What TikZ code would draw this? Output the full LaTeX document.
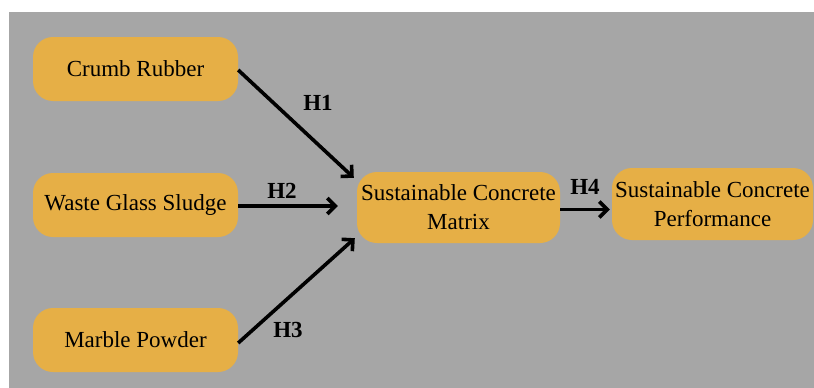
\documentclass[tikz,border=0pt]{standalone}
\usepackage{fontspec}
\setmainfont{Liberation Serif}
\usepackage{tikz}
\usetikzlibrary{arrows.meta}
\definecolor{panelgrey}{HTML}{A6A6A6}
\definecolor{boxorange}{HTML}{E6AF46}

\begin{document}
\begin{tikzpicture}
[
x=1pt,y=-1pt,
factor/.style 2 args={fill=boxorange,rounded corners=20pt,minimum width=#1pt,minimum height=#2pt,
            align=center,inner sep=2pt,font=\fontsize{23}{29}\selectfont},
hyp/.style={font=\fontsize{23}{28}\selectfont\bfseries,inner sep=0pt},
link/.style={line width=3.6pt,-{Straight Barb[length=8pt,width=16pt,line width=3.6pt]}},
]
\useasboundingbox (0,0) rectangle (814,388);
\fill[panelgrey] (8.5,11.5) rectangle (814,388);

%Place the nodes
\node[factor={205}{64}] (cr) at (135.5,69) {Crumb Rubber};
\node[factor={205}{64}] (wgs) at (135.5,205) {Waste Glass Sludge};
\node[factor={205}{64}] (mp) at (135.5,340) {Marble Powder};
\node[factor={203}{71}] (scm) at (458.5,207.5) {Sustainable Concrete\\Matrix};
\node[factor={201}{72}] (scp) at (712.5,204) {Sustainable Concrete\\Performance};
%\node[hyp] at (0,0) {H0};
\node[hyp] (h1) at (318,103) {H1};
\node[hyp] (h2) at (282,191) {H2};
\node[hyp] (h3) at (288,330) {H3};
\node[hyp] (h4) at (585,187) {H4};

%Draw the connections
\draw[link] ([yshift=-1pt]cr.east) -- ([xshift=-3pt,yshift=-6pt]scm.north west);
\draw[link,shorten >=19pt] ([yshift=-1pt]wgs.east) -- ([yshift=-1pt]wgs.east -| scm.west);
\draw[link] ([yshift=-3pt]mp.east) -- ([xshift=-2pt,yshift=5pt]scm.south west);
\draw[link,shorten >=2pt] ([yshift=-2pt]scm.east) -- ([yshift=-2pt]scm.east -| scp.west);
\end{tikzpicture}
\end{document}
